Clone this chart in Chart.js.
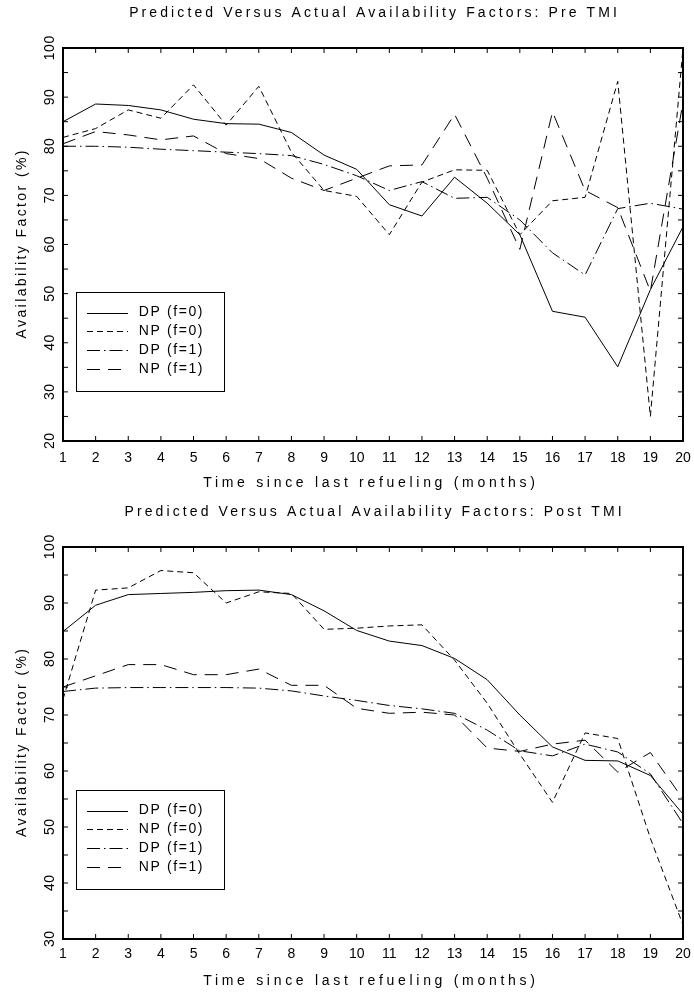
<!DOCTYPE html>
<html>
<head>
<meta charset="utf-8">
<script src="https://cdn.jsdelivr.net/npm/chart.js@4.4.1/dist/chart.umd.min.js"></script>
<style>
  body { margin: 0; background: #fff; }
  canvas { position: absolute; left: 0; }
  #preChart { top: 0; }
  #postChart { top: 496px; }
</style>
</head>
<body>
<canvas id="preChart" width="694" height="496"></canvas>
<canvas id="postChart" width="694" height="497"></canvas>
<script>
// months since refueling
const months = ['1', '2', '3', '4', '5', '6', '7', '8', '9', '10',
  '11', '12', '13', '14', '15', '16', '17', '18', '19', '20'];

// Pre TMI
const preDpF0 = [85.0, 88.6, 88.3, 87.4, 85.5, 84.6, 84.5, 82.8, 78.2, 75.3, 68.1, 65.8, 73.7, 68.4, 62.0, 46.4, 45.2, 35.1, 50.8, 63.6];
const preNpF0 = [81.8, 83.6, 87.4, 85.7, 92.5, 84.3, 92.2, 78.8, 71.0, 69.8, 62.0, 72.7, 75.2, 75.1, 62.0, 68.9, 69.6, 93.2, 25.0, 100];
const preDpF1 = [80.0, 80.0, 79.8, 79.4, 79.1, 78.8, 78.5, 78.1, 76.3, 74.0, 71.0, 72.8, 69.4, 69.6, 65.0, 58.3, 53.8, 67.3, 68.4, 67.2];
const preNpF1 = [80.5, 83.0, 82.3, 81.3, 82.1, 78.5, 77.5, 73.5, 71.0, 73.5, 76.0, 76.2, 86.5, 73.5, 59.0, 87.0, 71.0, 67.5, 50.5, 89.0];

// Post TMI
const postDpF0 = [84.9, 89.6, 91.5, 91.7, 91.9, 92.2, 92.3, 91.5, 88.6, 85.1, 83.2, 82.4, 80.1, 76.3, 70.0, 64.3, 61.9, 61.8, 59.2, 52.3];
const postNpF0 = [72.8, 92.3, 92.7, 95.8, 95.4, 90.0, 92.0, 91.7, 85.3, 85.5, 85.9, 86.1, 79.8, 72.1, 63.0, 54.4, 66.8, 65.8, 48.0, 32.5];
const postDpF1 = [74.2, 74.8, 74.9, 74.9, 74.9, 74.9, 74.8, 74.3, 73.4, 72.6, 71.7, 71.1, 70.3, 67.3, 63.6, 62.7, 64.8, 63.4, 59.5, 50.6];
const postNpF1 = [75.0, 77.0, 79.0, 79.0, 77.2, 77.2, 78.2, 75.3, 75.3, 71.2, 70.3, 70.5, 70.0, 64.1, 63.5, 64.8, 65.5, 59.8, 63.3, 55.0];

const preYTicks = [20, 30, 40, 50, 60, 70, 80, 90, 100];
const postYTicks = [30, 40, 50, 60, 70, 80, 90, 100];

const seriesLabels = ['DP (f=0)', 'NP (f=0)', 'DP (f=1)', 'NP (f=1)'];
const seriesDashes = [[], [6, 4], [13, 4, 1.5, 4], [13, 8]];

const xTitle = 'Time since last refueling (months)';
const yTitle = 'Availability Factor (%)';

Chart.defaults.font.family = "'Liberation Sans', Arial, sans-serif";
Chart.defaults.font.size = 14;
Chart.defaults.color = '#000';

function spacedText(ctx, text, x, y, spacing) {
  ctx.letterSpacing = spacing + 'px';
  ctx.fillText(text, x + spacing / 2, y);
  ctx.letterSpacing = '0px';
}

// frame, inward ticks, rotated y labels, titles and the boxed legend
const plotFrame = {
  id: 'plotFrame',
  beforeDraw(chart) {
    chart.ctx.letterSpacing = '0px';
  },
  afterDraw(chart, args, opts) {
    const { ctx, chartArea: a, scales: { x, y } } = chart;
    ctx.save();
    ctx.strokeStyle = '#000';
    ctx.fillStyle = '#000';

    ctx.lineWidth = 1;
    ctx.beginPath();
    months.forEach((m, i) => {
      const px = x.getPixelForTick(i);
      ctx.moveTo(px, a.top); ctx.lineTo(px, a.top + 5);
      ctx.moveTo(px, a.bottom); ctx.lineTo(px, a.bottom - 5);
    });
    for (let v = y.min; v <= y.max; v += 5) {
      const py = y.getPixelForValue(v);
      ctx.moveTo(a.left, py); ctx.lineTo(a.left + 5, py);
      ctx.moveTo(a.right, py); ctx.lineTo(a.right - 5, py);
    }
    ctx.stroke();

    ctx.lineWidth = 2;
    ctx.strokeRect(a.left, a.top, a.right - a.left, a.bottom - a.top);

    ctx.font = "14px 'Liberation Sans', Arial, sans-serif";
    ctx.textAlign = 'center';
    ctx.textBaseline = 'middle';

    // y tick labels, rotated
    opts.yTicks.forEach(v => {
      ctx.save();
      ctx.translate(50, y.getPixelForValue(v));
      ctx.rotate(-Math.PI / 2);
      spacedText(ctx, String(v), 0, 0, 0.5);
      ctx.restore();
    });

    const cx = (a.left + a.right) / 2;
    spacedText(ctx, opts.title, cx, opts.titleY, 3.1);
    spacedText(ctx, xTitle, cx - 4, a.bottom + 42, 3.7);

    ctx.save();
    ctx.translate(22, (a.top + a.bottom) / 2);
    ctx.rotate(-Math.PI / 2);
    spacedText(ctx, yTitle, 0, 0, 2.4);
    ctx.restore();

    // legend
    const bx = a.left + 13, bw = 148, bh = 99, by = a.bottom - 50 - bh;
    ctx.lineWidth = 1;
    ctx.strokeRect(bx + 0.5, by + 0.5, bw, bh);
    ctx.textAlign = 'left';
    chart.data.datasets.forEach((ds, i) => {
      const ry = by + 20.5 + i * 18.8;
      ctx.setLineDash(ds.borderDash);
      ctx.beginPath();
      ctx.moveTo(bx + 11, Math.round(ry) + 0.5);
      ctx.lineTo(bx + 52, Math.round(ry) + 0.5);
      ctx.stroke();
      ctx.setLineDash([]);
      spacedText(ctx, ds.label, bx + 62, ry, 1.6);
    });
    ctx.restore();
  }
};

function makeChart(id, values, yTicks, title, padTop, titleY, xHeight, tickPad) {
  return new Chart(document.getElementById(id), {
    type: 'line',
    data: {
      labels: months,
      datasets: values.map((v, i) => ({
        label: seriesLabels[i],
        data: v,
        borderColor: '#000',
        borderWidth: 1,
        borderDash: seriesDashes[i],
        pointRadius: 0,
        tension: 0,
        fill: false
      }))
    },
    options: {
      responsive: false,
      animation: false,
      layout: { padding: { top: padTop, right: 11, left: 0, bottom: 0 } },
      plugins: {
        legend: { display: false },
        tooltip: { enabled: false },
        plotFrame: { title: title, titleY: titleY, yTicks: yTicks }
      },
      scales: {
        x: {
          grid: { display: false },
          border: { display: false },
          ticks: { padding: tickPad, maxRotation: 0, autoSkip: false },
          afterFit: s => { s.height = xHeight; }
        },
        y: {
          min: yTicks[0],
          max: yTicks[yTicks.length - 1],
          grid: { display: false },
          border: { display: false },
          ticks: { display: false },
          afterFit: s => { s.width = 63; }
        }
      }
    },
    plugins: [plotFrame]
  });
}

makeChart('preChart', [preDpF0, preNpF0, preDpF1, preNpF1], preYTicks,
  'Predicted Versus Actual Availability Factors: Pre TMI', 48, 13, 55, 1);
makeChart('postChart', [postDpF0, postNpF0, postDpF1, postNpF1], postYTicks,
  'Predicted Versus Actual Availability Factors: Post TMI', 51, 16, 54, -1);
</script>
</body>
</html>
